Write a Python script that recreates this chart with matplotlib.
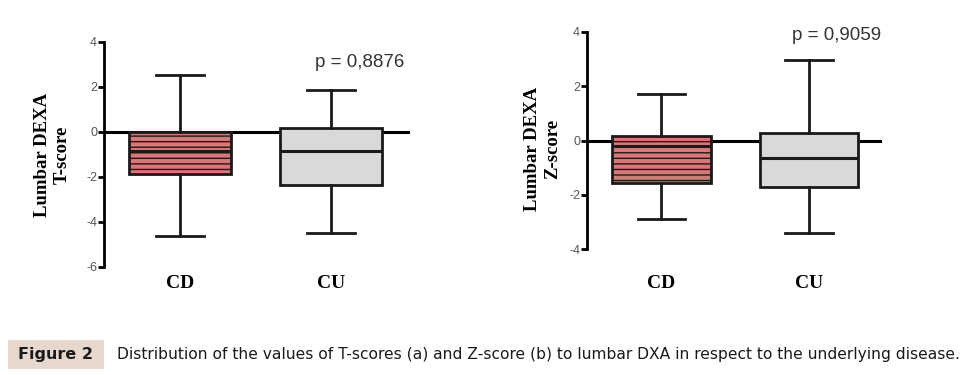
import matplotlib.pyplot as plt
from matplotlib.patches import Rectangle

# box statistics
groups = ['CD', 'CU']
t_whislo = [-4.62, -4.49]
t_q1 = [-1.87, -2.36]
t_med = [-0.84, -0.84]
t_q3 = [0.0, 0.18]
t_whishi = [2.53, 1.87]
t_p = 'p = 0,8876'

z_whislo = [-2.88, -3.40]
z_q1 = [-1.58, -1.70]
z_med = [-0.22, -0.66]
z_q3 = [0.15, 0.26]
z_whishi = [1.73, 2.95]
z_p = 'p = 0,9059'

caption = 'Distribution of the values of T-scores (a) and Z-score (b) to lumbar DXA in respect to the underlying disease.'

W, H = 966, 375
plt.rcParams['hatch.color'] = '#9c3c46'
plt.rcParams['hatch.linewidth'] = 1.0
fig = plt.figure(figsize=(W / 100, H / 100), dpi=100)


def px_axes(x0, x1, ytop, ybot):
    return fig.add_axes([x0 / W, 1 - ybot / H, (x1 - x0) / W, (ybot - ytop) / H])


def draw(ax, lo, q1, med, q3, hi, ylim, yticks, xlim, label, lab_xy, ptxt, py, xpad):
    stats = []
    for i in range(len(groups)):
        stats.append(dict(whislo=lo[i], q1=q1[i], med=med[i], q3=q3[i], whishi=hi[i], label=groups[i]))
    ax.axhline(0, color='black', lw=2.2, zorder=1)
    b = ax.bxp(stats, positions=[1, 2], widths=0.67, showfliers=False, patch_artist=True,
               capwidths=0.32,
               boxprops=dict(lw=2.0, edgecolor='#1a1a1a'),
               whiskerprops=dict(lw=2.0, color='#1a1a1a'),
               capprops=dict(lw=2.0, color='#1a1a1a'),
               medianprops=dict(lw=2.2, color='#1a1a1a'))
    b['boxes'][0].set_facecolor('#de7474')
    b['boxes'][0].set_hatch('---')
    b['boxes'][1].set_facecolor('#d9d9d9')
    for box in b['boxes']:
        box.set_zorder(2)
    ax.set_xlim(*xlim)
    ax.set_ylim(*ylim)
    ax.set_yticks(yticks)
    ax.set_yticklabels([str(t) for t in yticks], fontsize=9, color='#555555', family='Liberation Sans')
    for s in ['top', 'right', 'bottom']:
        ax.spines[s].set_visible(False)
    ax.spines['left'].set_linewidth(2.0)
    ax.tick_params(axis='y', direction='out', length=4, width=2.0, pad=1)
    ax.tick_params(axis='x', length=0, pad=xpad)
    ax.set_xticks([1, 2])
    ax.set_xticklabels(groups, fontsize=14, fontweight='bold', family='Liberation Serif')
    ax.set_ylabel(label, fontsize=13.5, fontweight='bold', family='Liberation Serif', linespacing=1.2)
    ax.yaxis.set_label_coords(*lab_xy)
    ax.text(2.19, py, ptxt, fontsize=13.5, color='#333333', ha='center', va='center', family='Liberation Sans')
    ax.patch.set_alpha(0)


ax1 = px_axes(104, 410, 42, 267)
draw(ax1, t_whislo, t_q1, t_med, t_q3, t_whishi, (-6, 4), [-6, -4, -2, 0, 2, 4],
     (0.497, 2.523), 'Lumbar DEXA\nT-score', (-0.108, 0.5), t_p, 3.1, 5.5)

ax2 = px_axes(587, 882, 32, 249)
draw(ax2, z_whislo, z_q1, z_med, z_q3, z_whishi, (-4, 4), [-4, -2, 0, 2, 4],
     (0.495, 2.495), 'Lumbar DEXA\nZ-score', (-0.088, 0.46), z_p, 3.87, 19)

# caption
fig.patches.append(Rectangle((8 / W, 1 - 369 / H), 96 / W, 29 / H, transform=fig.transFigure,
                             facecolor='#e6d8cc', edgecolor='none'))
t1 = fig.text(55 / W, 1 - 355 / H, 'Figure 2', fontsize=13, fontweight='bold', ha='center', va='center',
              color='#1a1a1a', family='DejaVu Sans')
t2 = fig.text(117 / W, 1 - 355 / H, caption, fontsize=12, ha='left', va='center',
              color='#1a1a1a', family='DejaVu Sans')

# shrink the caption texts to the widths seen in the reference
r = fig.canvas.get_renderer()
for t, target in [(t1, 74), (t2, 841)]:
    w = t.get_window_extent(r).width
    t.set_fontsize(t.get_fontsize() * target / w)

fig.savefig('out.png', dpi=100)
